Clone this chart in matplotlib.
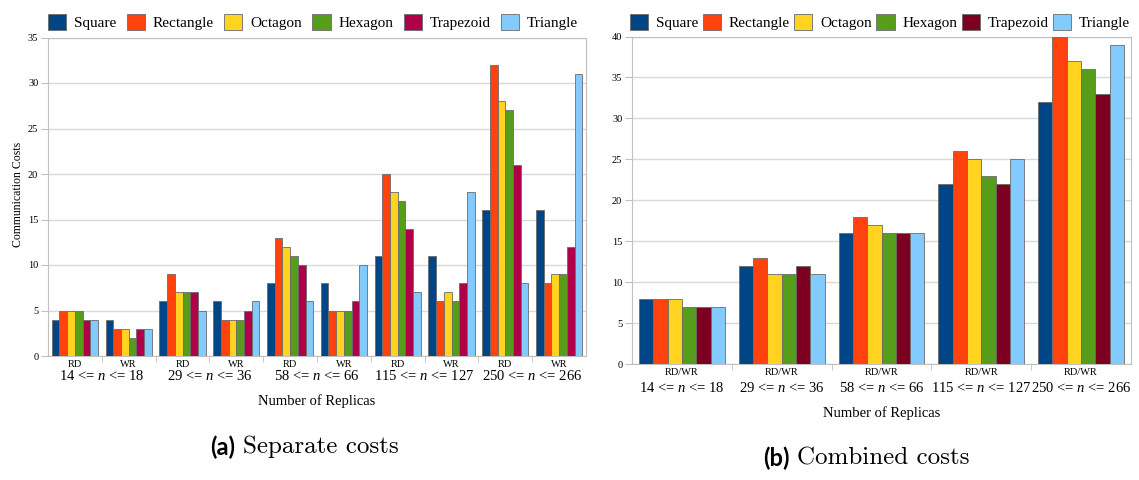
import numpy as np
import matplotlib
matplotlib.use("Agg")
import matplotlib.pyplot as plt
from matplotlib.patches import Patch

# data, separate costs (RD / WR per replica range)
cats_a = ["RD", "WR"] * 5
ranges = [r"14 <= $n$ <= 18", r"29 <= $n$ <= 36", r"58 <= $n$ <= 66",
          r"115 <= $n$ <= 127", r"250 <= $n$ <= 266"]
shapes = ["Square", "Rectangle", "Octagon", "Hexagon", "Trapezoid", "Triangle"]

square_a = [4, 4, 6, 6, 8, 8, 11, 11, 16, 16]
rect_a = [5, 3, 9, 4, 13, 5, 20, 6, 32, 8]
octa_a = [5, 3, 7, 4, 12, 5, 18, 7, 28, 9]
hexa_a = [5, 2, 7, 4, 11, 5, 17, 6, 27, 9]
trap_a = [4, 3, 7, 5, 10, 6, 14, 8, 21, 12]
tri_a = [4, 3, 5, 6, 6, 10, 7, 18, 8, 31]

# combined costs
cats_b = ["RD/WR"] * 5
square_b = [8, 12, 16, 22, 32]
rect_b = [8, 13, 18, 26, 40]
octa_b = [8, 11, 17, 25, 37]
hexa_b = [7, 11, 16, 23, 36]
trap_b = [7, 12, 16, 22, 33]
tri_b = [7, 11, 16, 25, 39]

colors_a = ["#004586", "#ff420e", "#ffd320", "#579d1c", "#b0004a", "#83caff"]
colors_b = ["#004586", "#ff420e", "#ffd320", "#579d1c", "#7e0021", "#83caff"]

plt.rcParams["font.family"] = ["Liberation Serif", "DejaVu Serif"]
plt.rcParams["mathtext.fontset"] = "custom"
plt.rcParams["mathtext.it"] = "Liberation Serif:italic"
plt.rcParams["mathtext.rm"] = "Liberation Serif"

W, H = 1139, 480
fig = plt.figure(figsize=(W / 100, H / 100), dpi=100)


def px(x, y):
    return x / W, 1 - y / H


def draw(ax, series, colors, cats, ymax):
    n = len(cats)
    x = np.arange(n)
    bw = 0.86 / len(series)
    for i, (vals, c) in enumerate(zip(series, colors)):
        ax.bar(x + (i - 2.5) * bw, vals, bw, color=c, edgecolor="#6b6b6b",
               linewidth=0.6, zorder=3)
    ax.set_xlim(-0.5, n - 0.5)
    ax.set_ylim(0, ymax)
    ax.set_yticks(np.arange(0, ymax + 1, 5))
    ax.yaxis.grid(True, color="#d9d9d9", linewidth=1, zorder=0)
    ax.set_xticks(x)
    ax.set_xticklabels(cats, fontsize=7.5)
    ax.set_xticks(np.arange(0.5, n - 0.5, 1), minor=True)
    ax.tick_params(axis="x", which="major", length=0, pad=3)
    ax.tick_params(axis="x", which="minor", length=4, color="#c0c0c0")
    ax.tick_params(axis="y", labelsize=7.5, length=5, color="#c0c0c0", pad=2)
    for s in ax.spines.values():
        s.set_color("#c0c0c0")


ax1 = fig.add_axes([48 / W, 1 - 356 / H, 538 / W, 318.5 / H])
draw(ax1, [square_a, rect_a, octa_a, hexa_a, trap_a, tri_a], colors_a, cats_a, 35)
for k, lab in enumerate(ranges):
    ax1.text(2 * k + 0.5, -0.063, lab, transform=ax1.get_xaxis_transform(),
             ha="center", va="center", fontsize=10.5)
ax1.text(0.5, -0.141, "Number of Replicas", transform=ax1.transAxes,
         ha="center", va="center", fontsize=10.5)
fig.text(*px(18, 194), "Communication Costs", rotation=90, ha="center",
         va="center", fontsize=8.5)

ax2 = fig.add_axes([632 / W, 1 - 364 / H, 499 / W, 327.5 / H])
draw(ax2, [square_b, rect_b, octa_b, hexa_b, trap_b, tri_b], colors_b, cats_b, 40)
for k, lab in enumerate(ranges):
    ax2.text(k, -0.073, lab, transform=ax2.get_xaxis_transform(),
             ha="center", va="center", fontsize=10.5)
ax2.text(0.5, -0.150, "Number of Replicas", transform=ax2.transAxes,
         ha="center", va="center", fontsize=10.5)

# legends above each chart
for colors, x0, x1 in [(colors_a, 48, 578), (colors_b, 630, 1130)]:
    handles = [Patch(facecolor=c, edgecolor="#6b6b6b", linewidth=0.6) for c in colors]
    l0, b0 = px(x0, 30)
    fig.legend(handles, shapes, loc="lower left", ncol=6, mode="expand",
               bbox_to_anchor=(l0, b0, (x1 - x0) / W, 24 / H), frameon=False,
               fontsize=11, handlelength=1.2, handleheight=1.2,
               handletextpad=0.5, borderaxespad=0, borderpad=0)

# sub captions
fig.text(*px(235, 447), "(a)", ha="right", va="center", fontsize=17,
         fontweight="bold", family="Lato")
fig.text(*px(243, 447), "Separate costs", ha="left", va="center",
         fontsize=18, family="cmr10")
fig.text(*px(790, 458), "(b)", ha="right", va="center", fontsize=17,
         fontweight="bold", family="Lato")
fig.text(*px(797, 458), "Combined costs", ha="left", va="center",
         fontsize=18, family="cmr10")

fig.savefig("out.png", dpi=100)
